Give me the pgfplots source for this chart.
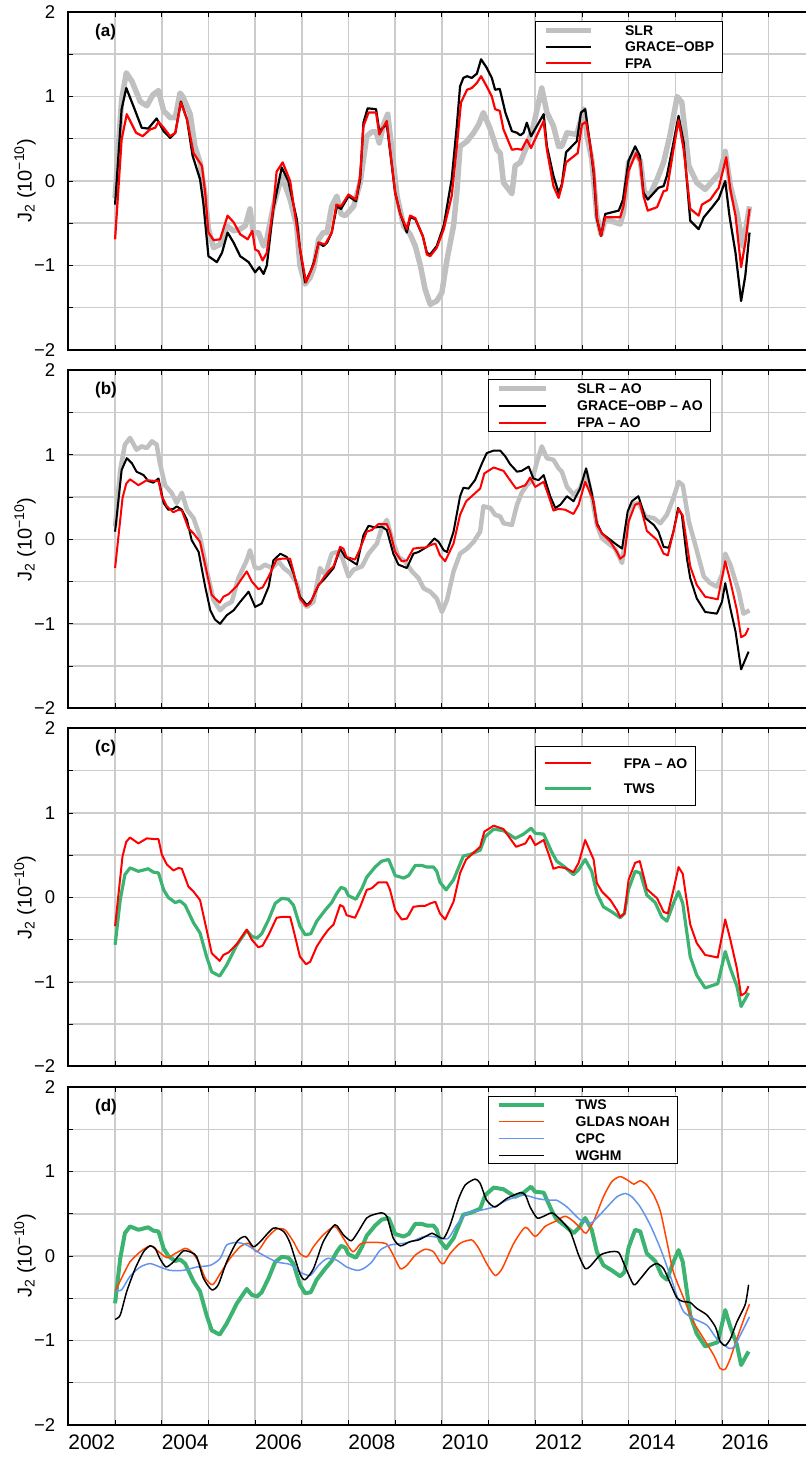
\documentclass[border=0pt]{standalone}
\usepackage{fontspec}
\setmainfont{Liberation Sans}
\usepackage{pgfplots}
\pgfplotsset{compat=1.18}
\definecolor{slrgray}{RGB}{192,192,192}
\definecolor{gridgray}{RGB}{204,204,204}
\definecolor{twsgreen}{RGB}{60,179,113}
\definecolor{gldas}{RGB}{255,69,0}
\definecolor{cpc}{RGB}{100,149,237}
\definecolor{fpared}{RGB}{255,0,0}

\pgfplotsset{
 panel/.style={
   scale only axis, width=737.6pt, height=338pt,
   xmin=2001.5, xmax=2017.3, ymin=-2, ymax=2,
   axis line style={draw=none},
   clip mode=individual,
   xtick={2001.5,2002.5,...,2017.5}, xticklabels={},
   minor x tick num=11,
   ytick={-2,-1.5,...,2}, yticklabels={−2,,−1,,0,,1,,2},
   ytick pos=left,
   xmajorgrids, ymajorgrids,
   major grid style={draw=gridgray, line width=1.5pt},
   major tick length=5pt, minor tick length=3pt,
   tick style={black, line width=0.8pt},
   yticklabel style={font=\fontsize{18.5}{18.5}\selectfont, inner sep=0pt, anchor=east, xshift=-13pt},
   xticklabel style={font=\fontsize{21}{21}\selectfont, inner sep=0pt, anchor=north, yshift=-10pt},
   ylabel={J\textsubscript{2} (10\textsuperscript{−10})},
   ylabel style={at={(axis description cs:-0.0588,0.5)}, anchor=center, font=\fontsize{20}{20}\selectfont},
   legend cell align=left,
   every axis plot/.append style={line join=round},
 },
}
\newcommand{\panelframe}{\draw[line width=2pt, line cap=rect] (rel axis cs:1,1) -- (rel axis cs:0,1) -- (rel axis cs:0,0) -- (rel axis cs:1,0);}
\newcommand{\panellabel}[1]{\node[anchor=west, inner sep=0pt, font=\bfseries\fontsize{17}{17}\selectfont] at (rel axis cs:0.036,0.941) {#1};}

\begin{document}
\begin{tikzpicture}
\useasboundingbox (0,0) rectangle (806pt,1457pt);

% ---------------- (a)
\begin{axis}[panel, at={(68.4pt,1107pt)}, anchor=south west,
  legend image code/.code={\draw[#1] (0pt,0pt) -- (45pt,0pt);},
  legend style={at={(axis description cs:0.6326,0.974)}, anchor=north west, draw=black, line width=1.2pt,
    inner xsep=8pt, inner ysep=2pt, row sep=2.5pt, column sep=31pt,
    font=\bfseries\fontsize{14}{14}\selectfont,
    nodes={inner sep=0pt, text height=12pt, text depth=2pt},
    column 2/.style={text width=129pt}}]
\addplot[slrgray, line width=5.5pt] coordinates {
(2002.50,-0.20)(2002.64,0.96)(2002.74,1.28)(2002.86,1.18)(2003.04,0.94)(2003.18,0.89)(2003.31,1.02)(2003.43,1.07)
(2003.54,0.83)(2003.68,0.75)(2003.79,0.75)(2003.89,1.04)(2003.95,1.00)(2004.11,0.79)(2004.21,0.41)(2004.32,0.22)
(2004.43,-0.18)(2004.50,-0.57)(2004.61,-0.79)(2004.75,-0.75)(2004.89,-0.53)(2005.04,-0.59)(2005.18,-0.57)(2005.29,-0.53)
(2005.39,-0.33)(2005.46,-0.61)(2005.57,-0.61)(2005.68,-0.77)(2005.75,-0.69)(2005.89,-0.30)(2006.07,0.06)(2006.25,-0.22)
(2006.39,-0.53)(2006.46,-1.00)(2006.57,-1.22)(2006.68,-1.14)(2006.76,-1.02)(2006.86,-0.69)(2006.96,-0.61)(2007.04,-0.61)
(2007.14,-0.30)(2007.25,-0.18)(2007.34,-0.39)(2007.43,-0.41)(2007.61,-0.30)(2007.75,-0.02)(2007.89,0.53)(2008.00,0.58)
(2008.09,0.58)(2008.16,0.45)(2008.25,0.67)(2008.34,0.79)(2008.43,0.37)(2008.54,-0.18)(2008.68,-0.53)(2008.82,-0.63)
(2008.93,-0.77)(2009.04,-1.00)(2009.14,-1.28)(2009.25,-1.46)(2009.39,-1.42)(2009.50,-1.32)(2009.61,-0.93)(2009.75,-0.53)
(2009.82,-0.14)(2009.89,0.41)(2010.04,0.47)(2010.18,0.57)(2010.29,0.67)(2010.39,0.81)(2010.54,0.61)(2010.68,0.37)
(2010.75,0.33)(2010.82,-0.02)(2011.00,-0.15)(2011.07,0.18)(2011.18,0.22)(2011.32,0.41)(2011.46,0.65)(2011.64,1.10)
(2011.75,0.81)(2011.89,0.65)(2012.00,0.41)(2012.07,0.41)(2012.18,0.57)(2012.39,0.55)(2012.54,0.85)(2012.61,0.53)
(2012.71,0.26)(2012.82,-0.41)(2012.91,-0.63)(2013.00,-0.45)(2013.32,-0.51)(2013.39,-0.37)(2013.50,0.22)(2013.64,0.33)
(2013.75,0.24)(2013.84,-0.14)(2013.96,-0.16)(2014.11,0.02)(2014.25,0.22)(2014.39,0.55)(2014.54,1.00)(2014.64,0.93)
(2014.79,0.18)(2014.96,-0.02)(2015.14,-0.10)(2015.36,0.04)(2015.46,0.10)(2015.57,0.35)(2015.68,-0.06)(2015.82,-0.37)
(2015.95,-0.77)(2016.09,-0.30)};
\addlegendentry{SLR}
\addplot[black, line width=2.2pt] coordinates {
(2002.50,-0.28)(2002.64,0.85)(2002.74,1.10)(2002.89,0.89)(2003.07,0.63)(2003.21,0.62)(2003.39,0.74)(2003.54,0.59)
(2003.68,0.51)(2003.79,0.57)(2003.91,0.94)(2004.04,0.73)(2004.16,0.30)(2004.32,0.02)(2004.39,-0.26)(2004.50,-0.89)
(2004.68,-0.96)(2004.79,-0.85)(2004.91,-0.61)(2005.04,-0.73)(2005.18,-0.89)(2005.36,-0.96)(2005.50,-1.08)(2005.59,-1.02)
(2005.68,-1.10)(2005.75,-1.00)(2005.89,-0.33)(2006.07,0.16)(2006.21,0.00)(2006.39,-0.45)(2006.46,-0.80)(2006.57,-1.20)
(2006.68,-1.08)(2006.76,-0.96)(2006.86,-0.73)(2006.96,-0.77)(2007.04,-0.73)(2007.14,-0.61)(2007.25,-0.30)(2007.34,-0.33)
(2007.50,-0.18)(2007.66,-0.24)(2007.75,0.02)(2007.82,0.69)(2007.91,0.86)(2008.09,0.85)(2008.16,0.59)(2008.32,0.67)
(2008.50,-0.14)(2008.61,-0.39)(2008.75,-0.61)(2008.82,-0.43)(2008.93,-0.45)(2009.09,-0.65)(2009.18,-0.85)(2009.25,-0.87)
(2009.39,-0.77)(2009.54,-0.53)(2009.71,0.02)(2009.82,0.65)(2009.89,1.12)(2009.96,1.22)(2010.04,1.24)(2010.14,1.22)
(2010.25,1.27)(2010.34,1.44)(2010.46,1.34)(2010.57,1.22)(2010.64,1.08)(2010.74,1.09)(2010.86,0.81)(2011.00,0.59)
(2011.11,0.57)(2011.18,0.54)(2011.25,0.57)(2011.32,0.69)(2011.41,0.53)(2011.68,0.79)(2011.75,0.41)(2011.89,0.06)
(2012.00,-0.14)(2012.07,-0.04)(2012.16,0.34)(2012.39,0.47)(2012.48,0.81)(2012.57,0.85)(2012.68,0.41)(2012.75,0.10)
(2012.82,-0.45)(2012.91,-0.65)(2013.00,-0.39)(2013.29,-0.35)(2013.38,-0.22)(2013.50,0.24)(2013.64,0.41)(2013.74,0.30)
(2013.82,-0.14)(2013.91,-0.22)(2014.14,-0.08)(2014.25,-0.06)(2014.32,0.06)(2014.46,0.45)(2014.57,0.77)(2014.68,0.45)
(2014.82,-0.47)(2015.00,-0.57)(2015.11,-0.43)(2015.29,-0.31)(2015.43,-0.21)(2015.57,0.00)(2015.66,-0.41)(2015.79,-0.85)
(2015.91,-1.42)(2016.00,-1.12)(2016.09,-0.61)};
\addlegendentry{GRACE−OBP}
\addplot[fpared, line width=2.2pt] coordinates {
(2002.50,-0.69)(2002.64,0.49)(2002.75,0.79)(2002.95,0.57)(2003.09,0.53)(2003.25,0.61)(2003.36,0.63)(2003.43,0.70)
(2003.54,0.63)(2003.68,0.53)(2003.79,0.57)(2003.91,0.93)(2004.04,0.73)(2004.18,0.33)(2004.36,0.18)(2004.43,-0.14)
(2004.50,-0.61)(2004.61,-0.70)(2004.75,-0.69)(2004.91,-0.41)(2005.04,-0.49)(2005.18,-0.63)(2005.34,-0.69)(2005.44,-0.59)
(2005.50,-0.81)(2005.57,-0.83)(2005.66,-0.94)(2005.75,-0.85)(2005.89,-0.30)(2005.96,0.11)(2006.09,0.22)(2006.25,0.00)
(2006.46,-0.80)(2006.59,-1.20)(2006.68,-1.08)(2006.76,-0.98)(2006.86,-0.73)(2007.00,-0.75)(2007.14,-0.61)(2007.24,-0.28)
(2007.34,-0.30)(2007.50,-0.16)(2007.66,-0.22)(2007.75,0.06)(2007.82,0.65)(2007.93,0.81)(2008.09,0.81)(2008.16,0.55)
(2008.32,0.71)(2008.50,-0.14)(2008.61,-0.39)(2008.75,-0.57)(2008.82,-0.41)(2008.93,-0.44)(2009.09,-0.65)(2009.18,-0.87)
(2009.25,-0.89)(2009.39,-0.79)(2009.54,-0.57)(2009.71,-0.18)(2009.82,0.41)(2009.91,0.93)(2010.04,1.08)(2010.14,1.10)
(2010.25,1.16)(2010.34,1.24)(2010.46,1.12)(2010.57,1.00)(2010.64,0.85)(2010.74,0.83)(2010.82,0.61)(2011.00,0.37)
(2011.11,0.38)(2011.21,0.37)(2011.32,0.49)(2011.41,0.39)(2011.68,0.71)(2011.75,0.37)(2011.89,-0.06)(2012.00,-0.20)
(2012.07,-0.06)(2012.16,0.22)(2012.41,0.33)(2012.50,0.67)(2012.59,0.70)(2012.68,0.41)(2012.76,0.10)(2012.82,-0.43)
(2012.91,-0.65)(2013.00,-0.43)(2013.32,-0.43)(2013.39,-0.30)(2013.50,0.12)(2013.66,0.33)(2013.75,0.22)(2013.82,-0.18)
(2013.91,-0.35)(2014.11,-0.31)(2014.25,-0.12)(2014.32,-0.11)(2014.46,0.37)(2014.57,0.72)(2014.68,0.37)(2014.82,-0.33)
(2015.00,-0.41)(2015.07,-0.28)(2015.25,-0.22)(2015.43,-0.08)(2015.59,0.28)(2015.68,-0.10)(2015.79,-0.41)(2015.91,-1.02)
(2016.00,-0.73)(2016.09,-0.33)};
\addlegendentry{FPA}
\panelframe
\panellabel{(a)}
\end{axis}

% ---------------- (b)
\begin{axis}[panel, at={(68.4pt,748.7pt)}, anchor=south west,
  legend image code/.code={\draw[#1] (0pt,0pt) -- (47pt,0pt);},
  legend style={at={(axis description cs:0.5689,0.974)}, anchor=north west, draw=black, line width=1.2pt,
    inner xsep=8pt, inner ysep=2pt, row sep=3pt, column sep=29pt,
    font=\bfseries\fontsize{14}{14}\selectfont,
    nodes={inner sep=0pt, text height=12pt, text depth=2pt},
    column 2/.style={text width=176pt}}]
\addplot[slrgray, line width=4.5pt] coordinates {
(2002.50,0.15)(2002.61,0.82)(2002.71,1.12)(2002.82,1.20)(2002.96,1.06)(2003.07,1.10)(2003.18,1.08)(2003.29,1.16)
(2003.39,1.12)(2003.46,0.90)(2003.57,0.64)(2003.71,0.55)(2003.82,0.43)(2003.93,0.55)(2004.04,0.35)(2004.18,0.25)
(2004.32,0.03)(2004.46,-0.36)(2004.61,-0.72)(2004.75,-0.84)(2004.86,-0.78)(2005.00,-0.74)(2005.14,-0.46)(2005.32,-0.25)
(2005.39,-0.13)(2005.50,-0.34)(2005.61,-0.34)(2005.71,-0.30)(2005.86,-0.34)(2006.00,-0.26)(2006.11,-0.34)(2006.25,-0.40)
(2006.39,-0.52)(2006.50,-0.74)(2006.61,-0.80)(2006.75,-0.74)(2006.89,-0.34)(2007.00,-0.42)(2007.14,-0.17)(2007.25,-0.15)
(2007.36,-0.21)(2007.50,-0.44)(2007.61,-0.36)(2007.79,-0.32)(2007.93,-0.17)(2008.11,-0.05)(2008.21,0.13)(2008.32,0.23)
(2008.43,0.01)(2008.57,-0.21)(2008.71,-0.26)(2008.86,-0.38)(2009.00,-0.46)(2009.11,-0.58)(2009.25,-0.62)(2009.39,-0.70)
(2009.50,-0.86)(2009.61,-0.72)(2009.75,-0.38)(2009.89,-0.17)(2010.04,-0.11)(2010.18,-0.03)(2010.32,0.09)(2010.39,0.39)
(2010.54,0.37)(2010.64,0.29)(2010.75,0.27)(2010.82,0.19)(2011.00,0.17)(2011.11,0.41)(2011.21,0.55)(2011.32,0.64)
(2011.43,0.70)(2011.54,0.92)(2011.64,1.10)(2011.75,0.96)(2011.89,0.94)(2012.00,0.84)(2012.07,0.80)(2012.18,0.62)
(2012.32,0.53)(2012.46,0.60)(2012.59,0.80)(2012.71,0.51)(2012.82,0.17)(2012.93,0.01)(2013.07,-0.05)(2013.21,-0.11)
(2013.36,-0.28)(2013.48,0.21)(2013.57,0.41)(2013.71,0.43)(2013.86,0.27)(2014.04,0.25)(2014.18,0.19)(2014.32,0.29)
(2014.46,0.49)(2014.57,0.68)(2014.66,0.64)(2014.79,0.21)(2014.93,-0.07)(2015.11,-0.44)(2015.25,-0.52)(2015.39,-0.56)
(2015.50,-0.42)(2015.57,-0.17)(2015.68,-0.30)(2015.86,-0.62)(2015.96,-0.88)(2016.09,-0.84)};
\addlegendentry{SLR – AO}
\addplot[black, line width=2pt] coordinates {
(2002.50,0.09)(2002.64,0.82)(2002.75,0.96)(2002.86,0.90)(2002.96,0.80)(2003.11,0.76)(2003.21,0.69)(2003.32,0.67)
(2003.43,0.72)(2003.54,0.43)(2003.64,0.35)(2003.75,0.36)(2003.82,0.39)(2003.93,0.35)(2004.04,0.23)(2004.14,-0.01)
(2004.29,-0.15)(2004.43,-0.56)(2004.54,-0.84)(2004.64,-0.95)(2004.75,-1.00)(2004.89,-0.90)(2005.04,-0.84)(2005.18,-0.74)
(2005.36,-0.62)(2005.50,-0.80)(2005.64,-0.76)(2005.79,-0.56)(2005.89,-0.25)(2006.04,-0.17)(2006.18,-0.21)(2006.32,-0.40)
(2006.46,-0.68)(2006.61,-0.78)(2006.71,-0.72)(2006.86,-0.54)(2007.00,-0.46)(2007.18,-0.34)(2007.32,-0.11)(2007.43,-0.21)
(2007.57,-0.26)(2007.68,-0.30)(2007.82,0.05)(2007.93,0.16)(2008.07,0.14)(2008.21,0.15)(2008.32,0.11)(2008.46,-0.17)
(2008.57,-0.30)(2008.75,-0.34)(2008.89,-0.17)(2009.00,-0.15)(2009.18,-0.09)(2009.34,0.01)(2009.43,-0.03)(2009.54,-0.13)
(2009.61,-0.15)(2009.75,0.09)(2009.89,0.51)(2009.96,0.61)(2010.07,0.60)(2010.21,0.70)(2010.36,0.90)(2010.46,1.02)
(2010.61,1.05)(2010.75,1.05)(2010.86,0.98)(2010.96,0.89)(2011.11,0.80)(2011.21,0.81)(2011.36,0.86)(2011.46,0.72)
(2011.57,0.70)(2011.68,0.76)(2011.82,0.51)(2011.93,0.37)(2012.04,0.41)(2012.18,0.51)(2012.32,0.45)(2012.46,0.60)
(2012.59,0.84)(2012.71,0.55)(2012.82,0.19)(2012.93,0.07)(2013.07,0.01)(2013.21,-0.05)(2013.36,-0.11)(2013.48,0.33)
(2013.57,0.45)(2013.71,0.51)(2013.86,0.25)(2014.04,0.17)(2014.14,0.09)(2014.25,-0.09)(2014.36,-0.10)(2014.46,0.09)
(2014.56,0.37)(2014.64,0.29)(2014.75,-0.23)(2014.82,-0.46)(2014.96,-0.70)(2015.14,-0.86)(2015.39,-0.88)(2015.50,-0.74)
(2015.57,-0.52)(2015.68,-0.82)(2015.79,-1.09)(2015.91,-1.54)(2016.07,-1.33)};
\addlegendentry{GRACE−OBP – AO}
\addplot[fpared, line width=2pt] coordinates {
(2002.50,-0.34)(2002.66,0.49)(2002.74,0.66)(2002.82,0.71)(2003.00,0.64)(2003.18,0.70)(2003.36,0.69)(2003.43,0.69)
(2003.50,0.51)(2003.61,0.39)(2003.75,0.32)(2003.86,0.35)(2003.93,0.34)(2004.07,0.13)(2004.18,0.07)(2004.32,-0.03)
(2004.46,-0.38)(2004.57,-0.66)(2004.74,-0.75)(2004.82,-0.68)(2004.93,-0.65)(2005.11,-0.55)(2005.32,-0.38)(2005.43,-0.50)
(2005.57,-0.59)(2005.66,-0.57)(2005.79,-0.44)(2005.96,-0.24)(2006.07,-0.23)(2006.25,-0.23)(2006.32,-0.38)(2006.46,-0.70)
(2006.59,-0.79)(2006.68,-0.76)(2006.82,-0.58)(2006.96,-0.46)(2007.07,-0.38)(2007.18,-0.32)(2007.32,-0.09)(2007.39,-0.11)
(2007.46,-0.21)(2007.64,-0.24)(2007.75,-0.11)(2007.89,0.09)(2008.00,0.11)(2008.14,0.18)(2008.32,0.18)(2008.39,0.09)
(2008.50,-0.15)(2008.64,-0.26)(2008.75,-0.25)(2008.89,-0.11)(2009.04,-0.10)(2009.14,-0.10)(2009.25,-0.07)(2009.36,-0.05)
(2009.46,-0.19)(2009.57,-0.26)(2009.75,-0.05)(2009.89,0.29)(2010.02,0.45)(2010.18,0.53)(2010.32,0.60)(2010.41,0.78)
(2010.61,0.85)(2010.82,0.81)(2010.96,0.70)(2011.09,0.60)(2011.29,0.64)(2011.39,0.73)(2011.50,0.62)(2011.68,0.68)
(2011.79,0.51)(2011.89,0.34)(2012.00,0.36)(2012.14,0.35)(2012.32,0.30)(2012.43,0.41)(2012.57,0.68)(2012.75,0.45)
(2012.82,0.17)(2012.93,0.07)(2013.11,-0.03)(2013.25,-0.15)(2013.32,-0.23)(2013.41,-0.19)(2013.50,0.21)(2013.64,0.41)
(2013.74,0.43)(2013.89,0.10)(2014.11,-0.01)(2014.25,-0.17)(2014.34,-0.19)(2014.46,0.09)(2014.57,0.36)(2014.66,0.28)
(2014.82,-0.32)(2014.96,-0.54)(2015.14,-0.68)(2015.41,-0.71)(2015.57,-0.26)(2015.68,-0.50)(2015.82,-0.84)(2015.91,-1.16)
(2016.00,-1.13)(2016.07,-1.05)};
\addlegendentry{FPA – AO}
\panelframe
\panellabel{(b)}
\end{axis}

% ---------------- (c)
\begin{axis}[panel, at={(68.4pt,390.5pt)}, anchor=south west, reverse legend,
  legend image code/.code={\draw[#1] (0pt,0pt) -- (46pt,0pt);},
  legend style={at={(axis description cs:0.6326,0.949)}, anchor=north west, draw=black, line width=1.2pt,
    inner xsep=8pt, inner ysep=10pt, row sep=11pt, column sep=31pt,
    font=\bfseries\fontsize{14}{14}\selectfont,
    nodes={inner sep=0pt, text height=12pt, text depth=2pt},
    column 2/.style={text width=128pt}}]
\addplot[twsgreen, line width=3.2pt] coordinates {
(2002.50,-0.56)(2002.61,-0.03)(2002.71,0.27)(2002.82,0.35)(2003.00,0.31)(2003.21,0.34)(2003.32,0.30)(2003.43,0.29)
(2003.54,0.09)(2003.64,0.00)(2003.79,-0.06)(2003.89,-0.04)(2004.00,-0.09)(2004.18,-0.30)(2004.32,-0.42)(2004.46,-0.70)
(2004.57,-0.88)(2004.74,-0.93)(2004.89,-0.80)(2005.11,-0.56)(2005.32,-0.39)(2005.43,-0.46)(2005.54,-0.48)(2005.64,-0.43)
(2005.79,-0.26)(2005.93,-0.07)(2006.07,-0.01)(2006.21,-0.02)(2006.32,-0.09)(2006.46,-0.34)(2006.57,-0.44)(2006.69,-0.43)
(2006.82,-0.28)(2007.00,-0.15)(2007.14,-0.06)(2007.25,0.05)(2007.34,0.12)(2007.43,0.10)(2007.50,0.02)(2007.66,-0.02)
(2007.79,0.11)(2007.89,0.24)(2008.07,0.36)(2008.21,0.43)(2008.36,0.45)(2008.50,0.26)(2008.68,0.23)(2008.79,0.26)
(2008.93,0.38)(2009.07,0.38)(2009.18,0.36)(2009.32,0.36)(2009.39,0.31)(2009.46,0.18)(2009.59,0.09)(2009.75,0.21)
(2009.96,0.49)(2010.11,0.51)(2010.32,0.56)(2010.43,0.72)(2010.61,0.81)(2010.82,0.79)(2011.07,0.70)(2011.25,0.75)
(2011.41,0.82)(2011.50,0.76)(2011.68,0.75)(2011.86,0.53)(2011.96,0.43)(2012.11,0.37)(2012.32,0.27)(2012.43,0.33)
(2012.57,0.45)(2012.71,0.31)(2012.82,0.05)(2012.96,-0.11)(2013.14,-0.17)(2013.32,-0.24)(2013.41,-0.19)(2013.50,0.10)
(2013.64,0.31)(2013.75,0.29)(2013.89,0.03)(2014.07,-0.06)(2014.21,-0.23)(2014.32,-0.28)(2014.46,-0.07)(2014.57,0.07)
(2014.66,-0.07)(2014.82,-0.70)(2014.96,-0.92)(2015.14,-1.07)(2015.41,-1.02)(2015.57,-0.64)(2015.68,-0.84)(2015.82,-1.05)
(2015.91,-1.29)(2016.07,-1.13)};
\addlegendentry{TWS}
\addplot[fpared, line width=2pt] coordinates {
(2002.50,-0.34)(2002.66,0.49)(2002.74,0.66)(2002.82,0.71)(2003.00,0.64)(2003.18,0.70)(2003.36,0.69)(2003.43,0.69)
(2003.50,0.51)(2003.61,0.39)(2003.75,0.32)(2003.86,0.35)(2003.93,0.34)(2004.07,0.13)(2004.18,0.07)(2004.32,-0.03)
(2004.46,-0.38)(2004.57,-0.66)(2004.74,-0.75)(2004.82,-0.68)(2004.93,-0.65)(2005.11,-0.55)(2005.32,-0.38)(2005.43,-0.50)
(2005.57,-0.59)(2005.66,-0.57)(2005.79,-0.44)(2005.96,-0.24)(2006.07,-0.23)(2006.25,-0.23)(2006.32,-0.38)(2006.46,-0.70)
(2006.59,-0.79)(2006.68,-0.76)(2006.82,-0.58)(2006.96,-0.46)(2007.07,-0.38)(2007.18,-0.32)(2007.32,-0.09)(2007.39,-0.11)
(2007.46,-0.21)(2007.64,-0.24)(2007.75,-0.11)(2007.89,0.09)(2008.00,0.11)(2008.14,0.18)(2008.32,0.18)(2008.39,0.09)
(2008.50,-0.15)(2008.64,-0.26)(2008.75,-0.25)(2008.89,-0.11)(2009.04,-0.10)(2009.14,-0.10)(2009.25,-0.07)(2009.36,-0.05)
(2009.46,-0.19)(2009.57,-0.26)(2009.75,-0.05)(2009.89,0.29)(2010.02,0.45)(2010.18,0.53)(2010.32,0.60)(2010.41,0.78)
(2010.61,0.85)(2010.82,0.81)(2010.96,0.70)(2011.09,0.60)(2011.29,0.64)(2011.39,0.73)(2011.50,0.62)(2011.68,0.68)
(2011.79,0.51)(2011.89,0.34)(2012.00,0.36)(2012.14,0.35)(2012.32,0.30)(2012.43,0.41)(2012.57,0.68)(2012.75,0.45)
(2012.82,0.17)(2012.93,0.07)(2013.11,-0.03)(2013.25,-0.15)(2013.32,-0.23)(2013.41,-0.19)(2013.50,0.21)(2013.64,0.41)
(2013.74,0.43)(2013.89,0.10)(2014.11,-0.01)(2014.25,-0.17)(2014.34,-0.19)(2014.46,0.09)(2014.57,0.36)(2014.66,0.28)
(2014.82,-0.32)(2014.96,-0.54)(2015.14,-0.68)(2015.41,-0.71)(2015.57,-0.26)(2015.68,-0.50)(2015.82,-0.84)(2015.91,-1.16)
(2016.00,-1.13)(2016.07,-1.05)};
\addlegendentry{FPA – AO}
\panelframe
\panellabel{(c)}
\end{axis}

% ---------------- (d)
\begin{axis}[panel, at={(68.4pt,32pt)}, anchor=south west,
  extra x ticks={2002,2004,...,2016},
  extra x tick labels={2002,2004,2006,2008,2010,2012,2014,2016},
  extra x tick style={grid=none, major tick length=0pt},
  legend image code/.code={\draw[#1] (0pt,0pt) -- (45pt,0pt);},
  legend style={at={(axis description cs:0.5689,0.973)}, anchor=north west, draw=black, line width=1.2pt,
    inner xsep=8pt, inner ysep=1pt, row sep=3pt, column sep=30pt,
    font=\bfseries\fontsize{14}{14}\selectfont,
    nodes={inner sep=0pt, text height=12pt, text depth=2pt},
    column 2/.style={text width=176pt}}]
\addplot[twsgreen, line width=4pt] coordinates {
(2002.50,-0.56)(2002.61,-0.03)(2002.71,0.27)(2002.82,0.35)(2003.00,0.31)(2003.21,0.34)(2003.32,0.30)(2003.43,0.29)
(2003.54,0.09)(2003.64,0.00)(2003.79,-0.06)(2003.89,-0.04)(2004.00,-0.09)(2004.18,-0.30)(2004.32,-0.42)(2004.46,-0.70)
(2004.57,-0.88)(2004.74,-0.93)(2004.89,-0.80)(2005.11,-0.56)(2005.32,-0.39)(2005.43,-0.46)(2005.54,-0.48)(2005.64,-0.43)
(2005.79,-0.26)(2005.93,-0.07)(2006.07,-0.01)(2006.21,-0.02)(2006.32,-0.09)(2006.46,-0.34)(2006.57,-0.44)(2006.69,-0.43)
(2006.82,-0.28)(2007.00,-0.15)(2007.14,-0.06)(2007.25,0.05)(2007.34,0.12)(2007.43,0.10)(2007.50,0.02)(2007.66,-0.02)
(2007.79,0.11)(2007.89,0.24)(2008.07,0.36)(2008.21,0.43)(2008.36,0.45)(2008.50,0.26)(2008.68,0.23)(2008.79,0.26)
(2008.93,0.38)(2009.07,0.38)(2009.18,0.36)(2009.32,0.36)(2009.39,0.31)(2009.46,0.18)(2009.59,0.09)(2009.75,0.21)
(2009.96,0.49)(2010.11,0.51)(2010.32,0.56)(2010.43,0.72)(2010.61,0.81)(2010.82,0.79)(2011.07,0.70)(2011.25,0.75)
(2011.41,0.82)(2011.50,0.76)(2011.68,0.75)(2011.86,0.53)(2011.96,0.43)(2012.11,0.37)(2012.32,0.27)(2012.43,0.33)
(2012.57,0.45)(2012.71,0.31)(2012.82,0.05)(2012.96,-0.11)(2013.14,-0.17)(2013.32,-0.24)(2013.41,-0.19)(2013.50,0.10)
(2013.64,0.31)(2013.75,0.29)(2013.89,0.03)(2014.07,-0.06)(2014.21,-0.23)(2014.32,-0.28)(2014.46,-0.07)(2014.57,0.07)
(2014.66,-0.07)(2014.82,-0.70)(2014.96,-0.92)(2015.14,-1.07)(2015.41,-1.02)(2015.57,-0.64)(2015.68,-0.84)(2015.82,-1.05)
(2015.91,-1.29)(2016.07,-1.13)};
\addlegendentry{TWS}
\addplot[gldas, line width=1.5pt, smooth, tension=0.4] coordinates {
(2002.50,-0.42)(2002.64,-0.26)(2002.82,-0.07)(2003.04,0.05)(2003.25,0.12)(2003.39,0.07)(2003.61,-0.02)(2003.79,0.03)
(2004.00,0.09)(2004.14,0.05)(2004.29,-0.07)(2004.43,-0.26)(2004.59,-0.34)(2004.75,-0.21)(2004.96,-0.03)(2005.18,0.11)
(2005.36,0.15)(2005.54,0.05)(2005.75,0.21)(2005.96,0.32)(2006.14,0.31)(2006.32,0.17)(2006.46,0.03)(2006.61,-0.01)
(2006.75,0.11)(2006.96,0.25)(2007.21,0.35)(2007.39,0.21)(2007.59,0.05)(2007.75,0.14)(2007.89,0.16)(2008.14,0.16)
(2008.32,0.14)(2008.46,0.01)(2008.61,-0.15)(2008.75,-0.11)(2008.93,0.01)(2009.14,0.08)(2009.32,0.05)(2009.46,-0.07)
(2009.54,-0.09)(2009.68,0.03)(2009.89,0.15)(2010.14,0.19)(2010.29,0.09)(2010.46,-0.09)(2010.64,-0.23)(2010.79,-0.15)
(2011.04,0.15)(2011.29,0.34)(2011.50,0.23)(2011.71,0.35)(2011.93,0.41)(2012.14,0.47)(2012.32,0.41)(2012.50,0.31)
(2012.59,0.27)(2012.75,0.41)(2012.96,0.70)(2013.14,0.88)(2013.32,0.94)(2013.50,0.89)(2013.61,0.85)(2013.75,0.89)
(2013.89,0.84)(2014.04,0.72)(2014.18,0.53)(2014.32,0.17)(2014.46,-0.19)(2014.68,-0.50)(2014.89,-0.78)(2015.11,-0.98)
(2015.32,-1.17)(2015.46,-1.33)(2015.57,-1.34)(2015.68,-1.21)(2015.82,-0.98)(2016.00,-0.70)(2016.09,-0.57)};
\addlegendentry{GLDAS NOAH}
\addplot[cpc, line width=1.5pt, smooth, tension=0.4] coordinates {
(2002.50,-0.41)(2002.64,-0.40)(2002.82,-0.24)(2003.04,-0.13)(2003.25,-0.09)(2003.46,-0.13)(2003.68,-0.17)(2003.96,-0.17)
(2004.25,-0.13)(2004.54,-0.11)(2004.75,-0.03)(2004.89,0.13)(2005.11,0.16)(2005.32,0.13)(2005.61,0.03)(2005.96,-0.07)
(2006.25,-0.10)(2006.46,-0.19)(2006.68,-0.23)(2006.86,-0.11)(2007.04,-0.03)(2007.25,-0.05)(2007.46,-0.13)(2007.68,-0.17)
(2007.82,-0.15)(2008.00,-0.07)(2008.18,0.07)(2008.39,0.13)(2008.68,0.15)(2008.89,0.18)(2009.11,0.23)(2009.32,0.23)
(2009.46,0.21)(2009.64,0.21)(2009.82,0.37)(2010.04,0.51)(2010.32,0.54)(2010.61,0.58)(2010.89,0.66)(2011.25,0.72)
(2011.54,0.68)(2011.79,0.66)(2011.96,0.66)(2012.18,0.58)(2012.46,0.43)(2012.68,0.39)(2012.82,0.45)(2013.04,0.58)
(2013.25,0.70)(2013.43,0.74)(2013.57,0.70)(2013.75,0.58)(2013.96,0.37)(2014.18,0.09)(2014.39,-0.23)(2014.54,-0.48)
(2014.68,-0.66)(2014.89,-0.74)(2015.18,-0.82)(2015.39,-0.98)(2015.64,-1.09)(2015.75,-1.08)(2015.89,-0.94)(2016.09,-0.72)};
\addlegendentry{CPC}
\addplot[black, line width=1.5pt, smooth, tension=0.4] coordinates {
(2002.50,-0.75)(2002.61,-0.70)(2002.75,-0.42)(2002.93,-0.15)(2003.11,0.05)(2003.25,0.12)(2003.36,0.09)(2003.46,-0.03)
(2003.59,-0.13)(2003.75,-0.07)(2003.96,0.06)(2004.14,0.04)(2004.25,-0.01)(2004.39,-0.26)(2004.57,-0.40)(2004.71,-0.34)
(2004.89,-0.07)(2005.11,0.17)(2005.29,0.23)(2005.46,0.11)(2005.61,0.17)(2005.89,0.33)(2006.11,0.29)(2006.25,0.15)
(2006.46,-0.21)(2006.57,-0.28)(2006.75,-0.15)(2006.96,0.17)(2007.21,0.37)(2007.39,0.25)(2007.56,0.18)(2007.71,0.29)
(2007.89,0.45)(2008.04,0.49)(2008.21,0.51)(2008.32,0.47)(2008.46,0.21)(2008.61,0.12)(2008.82,0.17)(2009.00,0.19)
(2009.18,0.24)(2009.29,0.27)(2009.39,0.24)(2009.54,0.21)(2009.68,0.37)(2009.86,0.68)(2010.00,0.84)(2010.21,0.91)
(2010.32,0.86)(2010.46,0.66)(2010.64,0.58)(2010.89,0.68)(2011.18,0.75)(2011.29,0.72)(2011.39,0.58)(2011.54,0.45)
(2011.68,0.47)(2011.86,0.51)(2012.04,0.43)(2012.25,0.29)(2012.43,0.01)(2012.57,-0.15)(2012.68,-0.12)(2012.89,0.01)
(2013.11,0.05)(2013.29,0.04)(2013.43,-0.13)(2013.61,-0.34)(2013.75,-0.27)(2013.96,-0.13)(2014.11,-0.09)(2014.25,-0.15)
(2014.39,-0.32)(2014.54,-0.50)(2014.68,-0.54)(2014.82,-0.55)(2014.96,-0.62)(2015.18,-0.70)(2015.36,-0.84)(2015.46,-1.01)
(2015.57,-1.06)(2015.68,-0.98)(2015.82,-0.78)(2016.00,-0.57)(2016.07,-0.34)};
\addlegendentry{WGHM}
\panelframe
\panellabel{(d)}
\end{axis}
\end{tikzpicture}
\end{document}
